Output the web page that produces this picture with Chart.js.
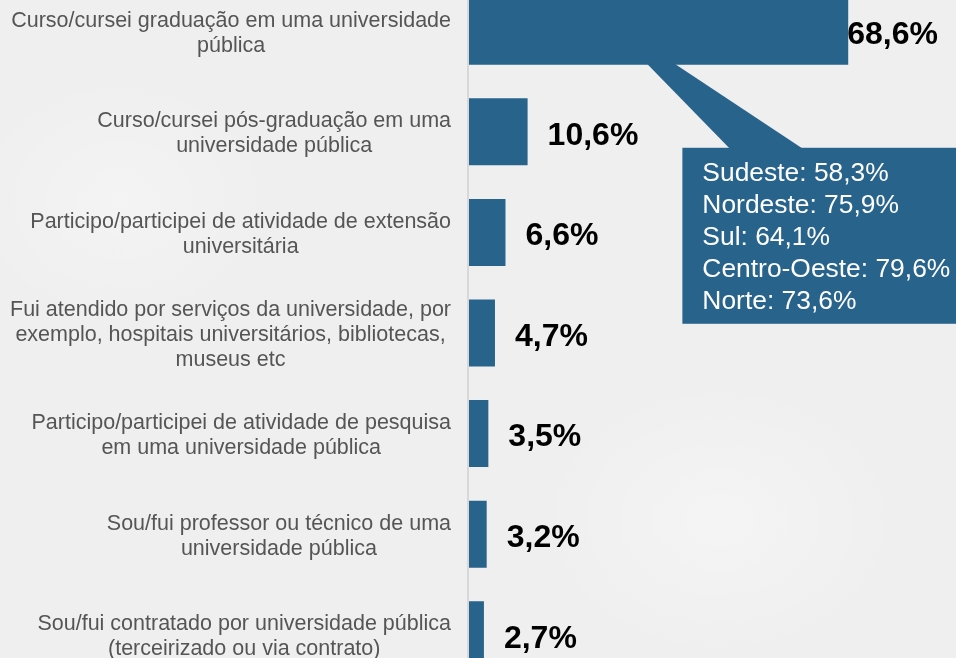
<!DOCTYPE html>
<html><head><meta charset="utf-8">
<script src="https://cdn.jsdelivr.net/npm/chart.js@4/dist/chart.umd.min.js"></script>
<style>
html,body{margin:0;padding:0;width:956px;height:658px;overflow:hidden;background:#f0f0f0;}
#bg{position:absolute;left:0;top:0;width:956px;height:658px;
background:
radial-gradient(ellipse 260px 200px at 720px 520px, rgba(255,255,255,0.35), rgba(255,255,255,0) 70%),
radial-gradient(ellipse 220px 180px at 120px 200px, rgba(255,255,255,0.3), rgba(255,255,255,0) 70%),
#efefef;}
#wrap{position:absolute;left:0;top:-19px;width:956px;height:704px;}
</style></head>
<body><div id="bg"></div><div id="wrap"><canvas id="c"></canvas></div>
<script>
const categories = [
  ["Curso/cursei graduação em uma universidade", "pública"],
  ["Curso/cursei pós-graduação em uma", "universidade pública"],
  ["Participo/participei de atividade de extensão", "universitária"],
  ["Fui atendido por serviços da universidade, por", "exemplo, hospitais universitários, bibliotecas,", "museus etc"],
  ["Participo/participei de atividade de pesquisa", "em uma universidade pública"],
  ["Sou/fui professor ou técnico de uma", "universidade pública"],
  ["Sou/fui contratado por universidade pública", "(terceirizado ou via contrato)"]
];
const values = [68.6, 10.6, 6.6, 4.7, 3.5, 3.2, 2.7];
const valueLabels = ["68,6%", "10,6%", "6,6%", "4,7%", "3,5%", "3,2%", "2,7%"];
const regionLabels = ["Sudeste", "Nordeste", "Sul", "Centro-Oeste", "Norte"];
const regionValues = ["58,3%", "75,9%", "64,1%", "79,6%", "73,6%"];

const BLUE = '#28638c';
const FONT = '"Liberation Sans", Arial, sans-serif';

const custom = {
  id: 'custom',
  afterDatasetsDraw(chart) {
    const ctx = chart.ctx;
    const ca = chart.chartArea;
    const xs = chart.scales.x, ys = chart.scales.y;
    const meta = chart.getDatasetMeta(0);
    ctx.save();
    // axis line
    ctx.strokeStyle = '#d8d8d8';
    ctx.lineWidth = 2;
    ctx.beginPath();
    ctx.moveTo(ca.left - 1, 0);
    ctx.lineTo(ca.left - 1, chart.height);
    ctx.stroke();
    // category labels
    ctx.fillStyle = '#555555';
    ctx.font = '21.5px ' + FONT;
    ctx.textBaseline = 'middle';
    ctx.textAlign = 'center';
    const lh = 25;
    categories.forEach((lines, i) => {
      const cy = ys.getPixelForValue(i) + 2;
      let w = 0;
      lines.forEach(l => { w = Math.max(w, ctx.measureText(l).width); });
      const cx = ca.left - 18 - w / 2;
      const top = cy - (lines.length - 1) * lh / 2;
      lines.forEach((l, j) => ctx.fillText(l, cx, top + j * lh));
    });
    // value labels
    ctx.fillStyle = '#000';
    ctx.font = 'bold 32px ' + FONT;
    ctx.textAlign = 'left';
    meta.data.forEach((bar, i) => {
      const t = valueLabels[i];
      const tw = ctx.measureText(t).width;
      let x = bar.x + 20;
      if (x + tw > chart.width - 18) x = chart.width - 18 - tw;
      ctx.fillText(t, x, bar.y + 4);
    });
    // callout
    const b0 = meta.data[0];
    const bottom = b0.y + b0.height / 2;
    const boxTop = bottom + 83;
    const boxLeft = xs.getPixelForValue(38.6);
    const boxBottom = boxTop + 176;
    ctx.fillStyle = BLUE;
    ctx.beginPath();
    ctx.moveTo(xs.getPixelForValue(32.2), bottom - 1);
    ctx.lineTo(xs.getPixelForValue(37.2), bottom - 1);
    ctx.lineTo(xs.getPixelForValue(60.4), boxTop + 1);
    ctx.lineTo(xs.getPixelForValue(47.2), boxTop + 1);
    ctx.closePath();
    ctx.fill();
    ctx.fillRect(boxLeft, boxTop, chart.width - boxLeft, boxBottom - boxTop);
    ctx.fillStyle = '#ffffff';
    ctx.font = '26.4px ' + FONT;
    ctx.textBaseline = 'middle';
    regionLabels.forEach((r, i) => {
      ctx.fillText(r + ': ' + regionValues[i], boxLeft + 20, boxTop + 26 + i * 32);
    });
    ctx.restore();
  }
};

new Chart(document.getElementById('c'), {
  type: 'bar',
  data: {
    labels: categories,
    datasets: [{
      data: values,
      backgroundColor: BLUE,
      borderWidth: 0,
      barPercentage: 0.666,
      categoryPercentage: 1.0
    }]
  },
  options: {
    indexAxis: 'y',
    responsive: true,
    maintainAspectRatio: false,
    animation: false,
    layout: { padding: { left: 469, right: 0, top: 0, bottom: 0 } },
    plugins: { legend: { display: false }, tooltip: { enabled: false } },
    scales: {
      x: { display: false, min: 0, max: 88.1 },
      y: { display: false, offset: true }
    }
  },
  plugins: [custom]
});
</script>
</body></html>
